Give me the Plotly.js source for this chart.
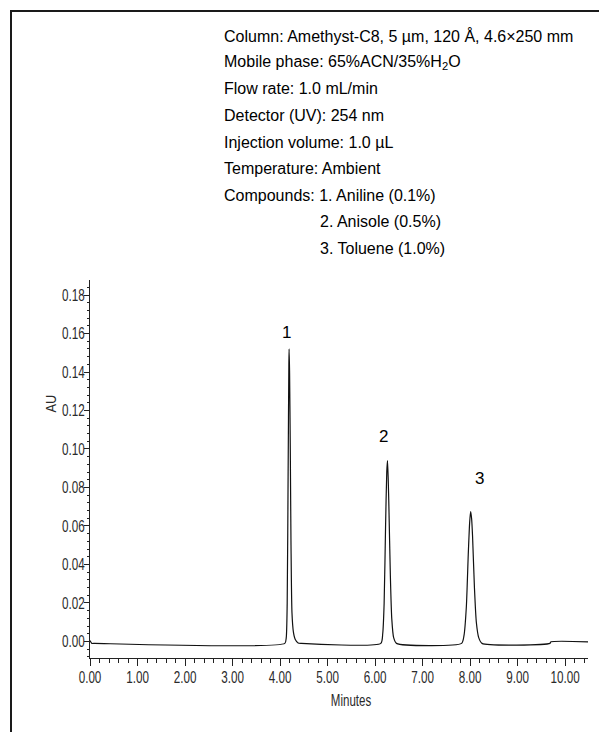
<!DOCTYPE html>
<html>
<head>
<meta charset="utf-8">
<script src="https://cdn.plot.ly/plotly-3.0.1.min.js"></script>
<style>
html,body{margin:0;padding:0;background:#fff;}
#chart{width:599px;height:732px;}
</style>
</head>
<body>
<div id="chart"></div>
<script>
// Retention time (min) and absorbance (AU)
const timeMin = [0.00, 0.04, 0.10, 4.10, 4.13, 4.15, 4.17, 4.185, 4.19, 4.20, 4.215, 4.23, 4.25, 4.28, 4.32, 4.38, 4.45,
  6.12, 6.16, 6.19, 6.22, 6.245, 6.26, 6.275, 6.29, 6.32, 6.35, 6.39, 6.45,
  7.82, 7.87, 7.92, 7.96, 7.99, 8.01, 8.03, 8.05, 8.09, 8.13, 8.18, 8.25,
  9.68, 9.70, 10.50];
const absorbanceAU = [0.0005, -0.001, -0.001, -0.001, 0.002, 0.02, 0.09, 0.145, 0.152, 0.14, 0.10, 0.05, 0.015, 0.005, 0.001, -0.0008, -0.001,
  -0.001, 0.004, 0.02, 0.06, 0.088, 0.094, 0.085, 0.07, 0.035, 0.012, 0.002, -0.001,
  -0.001, 0.003, 0.018, 0.045, 0.062, 0.0675, 0.064, 0.055, 0.028, 0.01, 0.002, -0.001,
  -0.001, -0.0002, -0.0002];

const peakLabels = ["1", "2", "3"];
const peakLabelTime = [4.14, 6.17, 8.19];
const peakLabelAU = [0.1604, 0.1064, 0.0848];

const infoLines = [
  "Column: Amethyst-C8, 5 µm, 120 Å, 4.6×250 mm",
  "Mobile phase: 65%ACN/35%H<sub>2</sub>O",
  "Flow rate: 1.0 mL/min",
  "Detector (UV): 254 nm",
  "Injection volume: 1.0 µL",
  "Temperature: Ambient",
  "Compounds: 1. Aniline (0.1%)",
  "2. Anisole (0.5%)",
  "3. Toluene (1.0%)"
];
const infoIndent = [0, 0, 0, 0, 0, 0, 0, 1, 1];

const xTitle = "Minutes";
const yTitle = "AU";
const yTickVals = [0, 0.02, 0.04, 0.06, 0.08, 0.10, 0.12, 0.14, 0.16, 0.18];
const xTickVals = [0, 1, 2, 3, 4, 5, 6, 7, 8, 9, 10];

// plot area geometry (pixels)
const W = 599, H = 732, L = 90, R = 11, T = 280, B = 74;
const pw = W - L - R, ph = H - T - B;
const px2paperX = p => (p - L) / pw;
const px2paperY = p => (H - B - p) / ph;

const sans = 'Liberation Sans, Arial, sans-serif';
const tickFont = {family: sans, size: 16, color: '#2a2a2a'};

const annotations = [];
peakLabels.forEach((t, i) => annotations.push({
  x: peakLabelTime[i], y: peakLabelAU[i], xref: 'x', yref: 'y', text: t, showarrow: false,
  font: {family: sans, size: 17, color: '#000'}
}));
infoLines.forEach((t, i) => annotations.push({
  x: px2paperX(infoIndent[i] ? 318 : 222), y: px2paperY(36 + i * 26.5), xref: 'paper', yref: 'paper',
  xanchor: 'left', yanchor: 'middle', text: t, showarrow: false,
  font: {family: sans, size: 16, color: '#000'}
}));
annotations.push({
  x: px2paperX(351), y: px2paperY(700), xref: 'paper', yref: 'paper', text: xTitle, showarrow: false,
  xanchor: 'center', yanchor: 'middle', font: {family: sans, size: 16, color: '#2a2a2a'}
});
annotations.push({
  x: px2paperX(50), y: px2paperY(404), xref: 'paper', yref: 'paper', text: yTitle, showarrow: false,
  textangle: -90, xanchor: 'center', yanchor: 'middle', font: {family: sans, size: 15, color: '#2a2a2a'}
});

const layout = {
  width: W, height: H,
  margin: {l: L, r: R, t: T, b: B, pad: 0},
  paper_bgcolor: '#fff', plot_bgcolor: '#fff',
  showlegend: false,
  xaxis: {
    range: [0, 10.48], tickvals: xTickVals, tickformat: '.2f',
    showgrid: false, zeroline: false, showline: true, linecolor: '#222', linewidth: 1,
    ticks: 'outside', ticklen: 7, tickcolor: '#222', tickfont: tickFont, ticklabelstandoff: -2,
    minor: {dtick: 0.2, ticks: 'outside', ticklen: 4, tickcolor: '#222'}
  },
  yaxis: {
    range: [-0.0086, 0.1878], tickvals: yTickVals, tickformat: '.2f',
    showgrid: false, zeroline: false, showline: true, linecolor: '#222', linewidth: 1,
    ticks: 'outside', ticklen: 5, tickcolor: '#222', tickfont: tickFont, ticklabelstandoff: -4,
    minor: {dtick: 0.004, ticks: 'outside', ticklen: 2, tickcolor: '#222'}
  },
  annotations: annotations,
  shapes: [
    {type: 'line', xref: 'paper', yref: 'paper', x0: px2paperX(11), x1: px2paperX(11), y0: px2paperY(10), y1: px2paperY(740), line: {color: '#1a1a1a', width: 2}},
    {type: 'line', xref: 'paper', yref: 'paper', x0: px2paperX(10), x1: px2paperX(610), y0: px2paperY(11), y1: px2paperY(11), line: {color: '#1a1a1a', width: 2}}
  ]
};

function squeeze(n, f) {
  const w = n.getComputedTextLength();
  if (w > 0) {
    n.setAttribute('lengthAdjust', 'spacingAndGlyphs');
    n.setAttribute('textLength', (w * f).toFixed(1));
  }
}
function condense() {
  // the reference draws axis texts in a condensed face; narrow the glyphs
  document.querySelectorAll('.xtick text, .ytick text').forEach(n => squeeze(n, 0.73));
  document.querySelectorAll('.annotation-text').forEach(n => {
    if (n.textContent === xTitle) squeeze(n, 0.72);
    if (n.textContent === yTitle) squeeze(n, 0.85);
  });
}

Plotly.newPlot('chart', [{
  x: timeMin, y: absorbanceAU, type: 'scatter', mode: 'lines',
  line: {color: '#111', width: 1.2, shape: 'spline', smoothing: 0.6}, hoverinfo: 'skip'
}], layout, {displayModeBar: false, staticPlot: true}).then(condense);
</script>
</body>
</html>
